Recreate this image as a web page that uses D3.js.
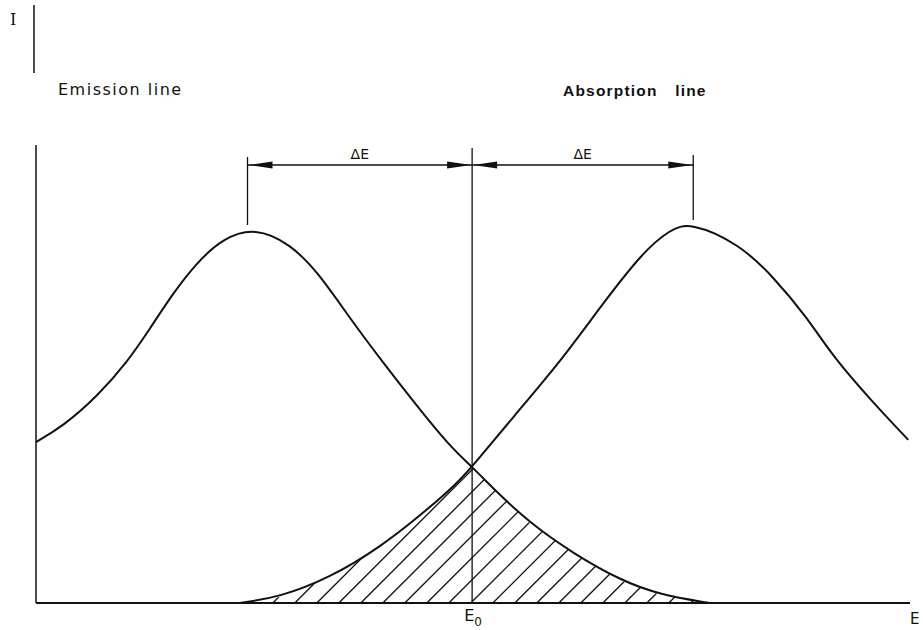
<!DOCTYPE html>
<html>
<head>
<meta charset="utf-8">
<script src="https://cdn.jsdelivr.net/npm/d3@7"></script>
<style>
  body { margin: 0; background: #fff; }
  svg { display: block; }
  text { font-family: "DejaVu Sans", "Liberation Sans", sans-serif; fill: #111; }
</style>
</head>
<body>
<div id="visualization"></div>
<script>
// points (energy 0..100, intensity 0..100)
const emissionE = [0, 3.1, 7.0, 10.4, 13.0, 15.7, 18.4, 21.4, 25.1, 29.1, 32.2, 35.9, 39.7, 43.6, 47.4, 49.9, 52.5, 56.5, 61.4, 66.8, 71.4, 77.1];
const emissionI = [43.5, 47.8, 55.8, 65.0, 74.0, 83.8, 92.0, 98.6, 101.5, 97.0, 89.6, 77.0, 65.0, 53.2, 42.2, 36.8, 30.5, 21.6, 13.5, 6.2, 2.2, 0];
const absorptionE = [23.3, 27.9, 33.6, 39.4, 44.3, 48.2, 49.9, 54.6, 60.0, 64.9, 69.5, 72.5, 74.8, 80.5, 84.3, 88.2, 91.2, 95.8, 99.8];
const absorptionI = [0, 1.6, 6.8, 15.1, 24.3, 32.4, 36.8, 50.3, 65.2, 81.1, 95.0, 100.8, 103.0, 97.0, 88.3, 77.3, 66.5, 54.1, 44.1];
const E0 = 49.9;
const emissionPeak = 24.2;
const absorptionPeak = 75.2;

const width = 923;
const height = 630;

const svg = d3.select("#visualization").append("svg")
  .attr("width", width).attr("height", height)
  .attr("viewBox", [0, 0, width, height]);

const x = d3.scaleLinear().domain([0, 100]).range([36, 910]);
const y = d3.scaleLinear().domain([0, 100]).range([603, 233]);

const emission = emissionE.map((e, i) => [e, emissionI[i]]);
const absorption = absorptionE.map((e, i) => [e, absorptionI[i]]);

const line = d3.line()
  .x(d => x(d[0])).y(d => y(d[1]))
  .curve(d3.curveBasis);

// overlap region: rising absorption up to E0, then falling emission
const overlap = absorption.filter(d => d[0] <= E0).concat(emission.filter(d => d[0] > E0));
const area = d3.area()
  .x(d => x(d[0])).y0(y(0)).y1(d => y(d[1]))
  .curve(d3.curveLinear);

svg.append("clipPath").attr("id", "overlap")
  .append("path").attr("d", area(overlap));

// hatching
const hatch = svg.append("g").attr("clip-path", "url(#overlap)")
  .attr("stroke", "#111").attr("stroke-width", 1.3);
const step = 22;
for (let x0 = x(20) - 400; x0 < x(80) + 50; x0 += step) {
  hatch.append("line")
    .attr("x1", x0).attr("y1", y(0))
    .attr("x2", x0 + 400).attr("y2", y(0) - 400);
}

const ink = svg.append("g").attr("stroke", "#111").attr("fill", "none");

ink.append("path").attr("d", line(emission)).attr("stroke-width", 2);
ink.append("path").attr("d", line(absorption)).attr("stroke-width", 2);

// axes
ink.append("line").attr("x1", x(0)).attr("x2", x(100)).attr("y1", y(0)).attr("y2", y(0)).attr("stroke-width", 2);
ink.append("line").attr("x1", x(0)).attr("x2", x(0)).attr("y1", 145).attr("y2", y(0)).attr("stroke-width", 1.5);
ink.append("line").attr("x1", 34).attr("x2", 34).attr("y1", 5).attr("y2", 73).attr("stroke-width", 1.5);

// E0 vertical and peak markers
ink.append("line").attr("x1", x(E0)).attr("x2", x(E0)).attr("y1", 148).attr("y2", y(0)).attr("stroke-width", 1.3);
ink.append("line").attr("x1", x(emissionPeak)).attr("x2", x(emissionPeak)).attr("y1", 157).attr("y2", 225).attr("stroke-width", 1.3);
ink.append("line").attr("x1", x(absorptionPeak)).attr("x2", x(absorptionPeak)).attr("y1", 155).attr("y2", 220).attr("stroke-width", 1.3);

// delta E arrows
const arrowY = 165;
function arrowHead(xTip, dir) {
  svg.append("path")
    .attr("d", `M${xTip},${arrowY} L${xTip - dir * 24},${arrowY - 3.5} L${xTip - dir * 24},${arrowY + 3.5} Z`)
    .attr("fill", "#111");
}
[[emissionPeak, E0], [E0, absorptionPeak]].forEach(([a, b]) => {
  ink.append("line").attr("x1", x(a)).attr("x2", x(b)).attr("y1", arrowY).attr("y2", arrowY).attr("stroke-width", 1.3);
  arrowHead(x(a) + 1, -1);
  arrowHead(x(b) - 1, 1);
  svg.append("text").attr("x", (x(a) + x(b)) / 2).attr("y", 159)
    .attr("text-anchor", "middle").attr("font-size", 14).text("ΔE");
});

// labels
svg.append("text").attr("x", 10).attr("y", 25)
  .style("font-family", "'DejaVu Serif', serif").attr("font-size", 16).text("I");
svg.append("text").attr("x", 58).attr("y", 95).attr("font-size", 16)
  .attr("letter-spacing", 1.5).text("Emission line");
svg.append("text").attr("x", 563).attr("y", 96)
  .style("font-family", "'Liberation Sans', Arial, sans-serif")
  .attr("font-size", 15.5).attr("font-weight", "bold")
  .attr("letter-spacing", 1.2).attr("word-spacing", 12).text("Absorption line");

const e0 = svg.append("text").attr("x", x(E0) - 8).attr("y", 621).attr("font-size", 16);
e0.append("tspan").text("E");
e0.append("tspan").attr("dy", 5).attr("font-size", 12).text("0");
svg.append("text").attr("x", 910).attr("y", 624).attr("font-size", 15).text("E");
</script>
</body>
</html>
